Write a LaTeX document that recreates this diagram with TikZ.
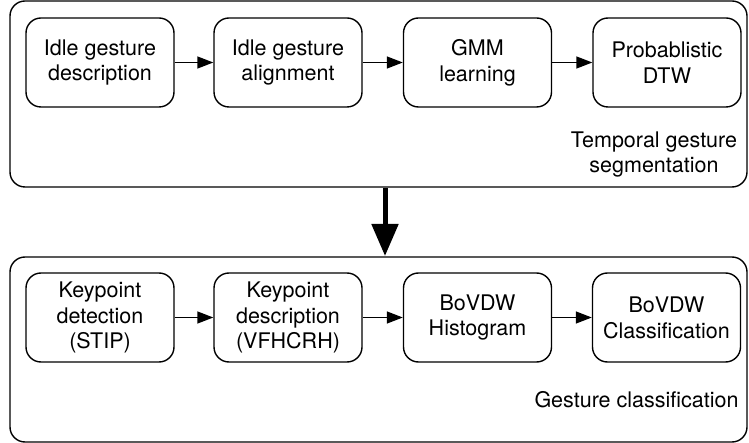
\documentclass[tikz,border=0pt]{standalone}
\usepackage{fontspec}
\setmainfont{TeX Gyre Heros}
\usetikzlibrary{arrows.meta}
\begin{document}
\begin{tikzpicture}[x=1pt,y=-1pt,
  stage/.style={draw, line width=1.4pt, rounded corners=15pt, minimum width=148pt, minimum height=89pt, align=center, font=\fontsize{21.5}{25.8}\selectfont, inner sep=0pt},
  group/.style={draw, line width=1.4pt, rounded corners=15pt},
  lbl/.style={align=center, font=\fontsize{21.5}{25.8}\selectfont, inner sep=0pt},
  flow/.style={-{Triangle[length=16pt,width=12pt]}, line width=1.4pt},
  bigflow/.style={-{Triangle[length=32pt,width=26pt]}, line width=5pt}]
\useasboundingbox (0,0) rectangle (749,443);
\draw[group] (10,1) rectangle (747,187);
\draw[group] (10,257) rectangle (747,442);
\node[stage] (a1) at (100,62.5) {Idle gesture\\description};
\node[stage] (a2) at (288,62.5) {Idle gesture\\alignment};
\node[stage] (a3) at (477.5,62.5) {GMM\\learning};
\node[stage] (a4) at (667,62.5) {Probablistic\\DTW};
\node[lbl] (la) at (654,154.5) {Temporal gesture\\segmentation};
\node[stage] (b1) at (100,317.5) {Keypoint\\detection\\(STIP)};
\node[stage] (b2) at (288,317.5) {Keypoint\\description\\(VFHCRH)};
\node[stage] (b3) at (477.5,317.5) {BoVDW\\Histogram};
\node[stage] (b4) at (666.5,317.5) {BoVDW\\Classification};
\node[lbl] (lb) at (636.5,400) {Gesture classification};
\coordinate (t1) at (385,188);
\coordinate (t2) at (385,256);
\draw[flow] (a1) -- (a2);
\draw[flow] (a2) -- (a3);
\draw[flow] (a3) -- (a4);
\draw[flow] (b1) -- (b2);
\draw[flow] (b2) -- (b3);
\draw[flow] (b3) -- (b4);
\draw[bigflow] (t1) -- (t2);
\end{tikzpicture}
\end{document}
